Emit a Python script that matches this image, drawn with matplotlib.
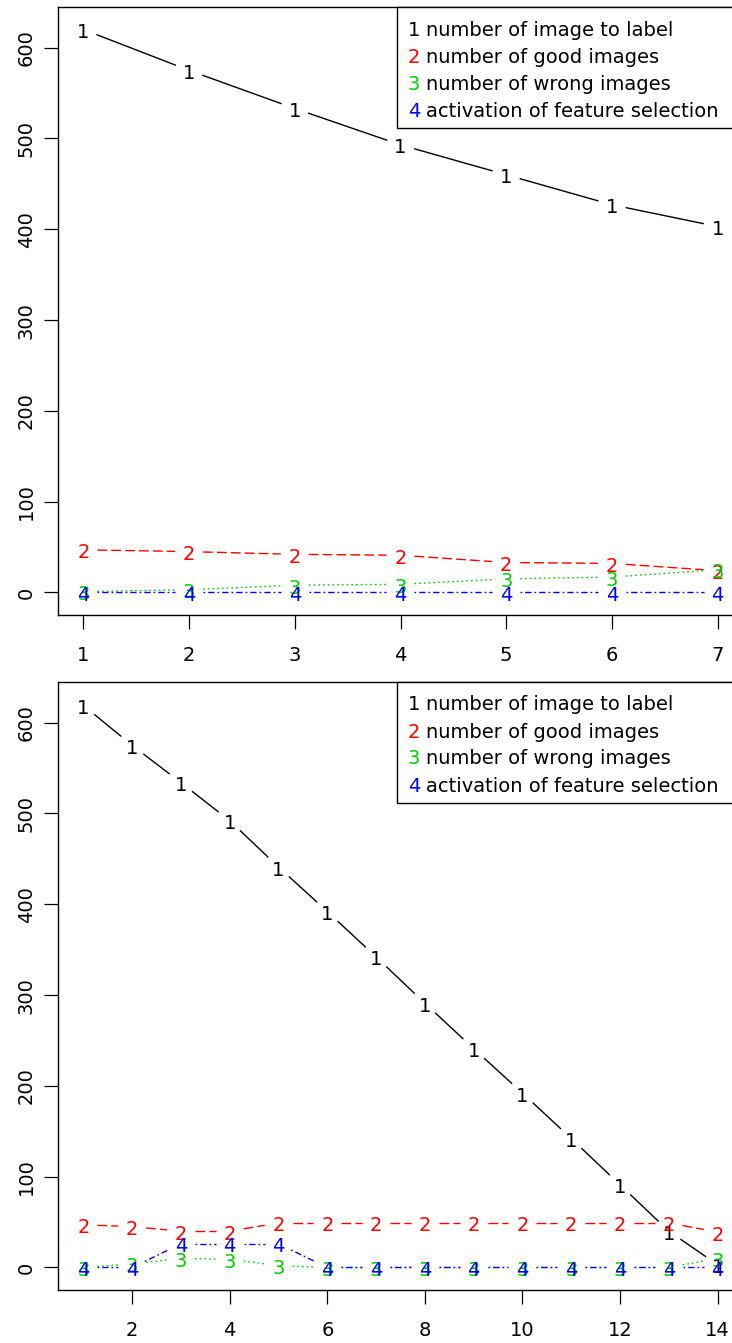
import numpy as np
import matplotlib
matplotlib.use("Agg")
import matplotlib.pyplot as plt
from matplotlib.patches import Rectangle
from matplotlib.transforms import offset_copy

# ---- data ----
runs_top     = [1, 2, 3, 4, 5, 6, 7]
to_label_top = [620, 575, 533, 493, 460, 427, 403]
good_top     = [47, 45, 42, 41, 33, 32, 24]
wrong_top    = [1, 3, 8, 9, 15, 17, 25]
feat_top     = [0, 0, 0, 0, 0, 0, 0]

runs_bot     = [1, 2, 3, 4, 5, 6, 7, 8, 9, 10, 11, 12, 13, 14]
to_label_bot = [619, 575, 534, 492, 441, 392, 342, 291, 241, 192, 142, 91, 40, 3]
good_bot     = [47, 45, 40, 40, 49, 49, 49, 49, 49, 49, 49, 49, 49, 39]
wrong_bot    = [0, 4, 10, 9, 2, 0, 0, 0, 0, 0, 0, 0, 0, 10]
feat_bot     = [0, 0, 26, 26, 26, 0, 0, 0, 0, 0, 0, 0, 0, 0]

series_names = ["number of image to label", "number of good images",
                "number of wrong images", "activation of feature selection"]
series_chars = ["1", "2", "3", "4"]

colors = ["black", "#FF0000", "#00CD00", "#0000FF"]
styles = ["-", (0, (7.0, 3.0)), (0, (1.2, 2.2)), (0, (1.2, 2.2, 4.5, 2.2))]

FS  = 14
LW  = 1.0
GAP = 14  # px gap around each point glyph (R type="b")

plt.rcParams["font.family"] = ["DejaVu Sans"]
plt.rcParams["lines.scale_dashes"] = False

fig = plt.figure(figsize=(7.32, 13.43), dpi=100)
W, H = 732, 1343


def draw_b(ax, x, y, color, ls, ch):
    pts = ax.transData.transform(np.column_stack([x, y]).astype(float))
    inv = ax.transData.inverted()
    for p0, p1 in zip(pts[:-1], pts[1:]):
        d = p1 - p0
        L = np.hypot(*d)
        if L <= 2 * GAP:
            continue
        u = d / L
        seg = inv.transform(np.array([p0 + u * GAP, p1 - u * GAP]))
        ax.plot(seg[:, 0], seg[:, 1], color=color, ls=ls, lw=LW, solid_capstyle="butt")
    tr = offset_copy(ax.transData, fig=fig, x=0, y=-3, units="dots")
    for xi, yi in zip(x, y):
        ax.text(xi, yi, ch, color=color, ha="center", va="center", fontsize=FS, transform=tr)


def panel(top_px, x, series, xticks):
    left_px, right_px, h_px = 58, 743, 608
    ax = fig.add_axes([left_px / W, 1 - (top_px + h_px) / H, (right_px - left_px) / W, h_px / H])
    pad = 0.04 * (max(x) - min(x))
    ax.set_xlim(min(x) - pad, max(x) + pad)
    ax.set_ylim(-24.8, 644.8)
    ax.set_xticks(xticks)
    ax.set_yticks([0, 100, 200, 300, 400, 500, 600])
    ax.tick_params(axis="both", direction="out", length=10, width=0.9, labelsize=FS)
    ax.tick_params(axis="x", pad=12)
    ax.tick_params(axis="y", pad=6, labelrotation=90)
    for lbl in ax.get_yticklabels():
        lbl.set_va("center")
    for sp in ax.spines.values():
        sp.set_linewidth(1.0)

    for ys, c, ls, ch in zip(series, colors, styles, series_chars):
        draw_b(ax, x, ys, c, ls, ch)

    # legend box (top right, as in R legend("topright"))
    bx0 = (397 - left_px) / (right_px - left_px)
    by0 = 1 - 121 / h_px
    ax.add_patch(Rectangle((bx0, by0), 1.2 - bx0, 1 - by0, transform=ax.transAxes,
                           facecolor="white", edgecolor="black", lw=1.0, zorder=5,
                           clip_on=False))
    for i, (name, c, ch) in enumerate(zip(series_names, colors, series_chars)):
        yy = 1 - (23 + 27 * i) / h_px
        ax.text((414 - left_px) / (right_px - left_px), yy, ch, color=c, fontsize=FS,
                ha="center", va="center", transform=ax.transAxes, zorder=6)
        ax.text((426 - left_px) / (right_px - left_px), yy, name, color="black", fontsize=FS,
                ha="left", va="center", transform=ax.transAxes, zorder=6)
    return ax


panel(7, runs_top, [to_label_top, good_top, wrong_top, feat_top], runs_top)
panel(682, runs_bot, [to_label_bot, good_bot, wrong_bot, feat_bot], [2, 4, 6, 8, 10, 12, 14])

fig.savefig("out.png", dpi=100, facecolor="white")
